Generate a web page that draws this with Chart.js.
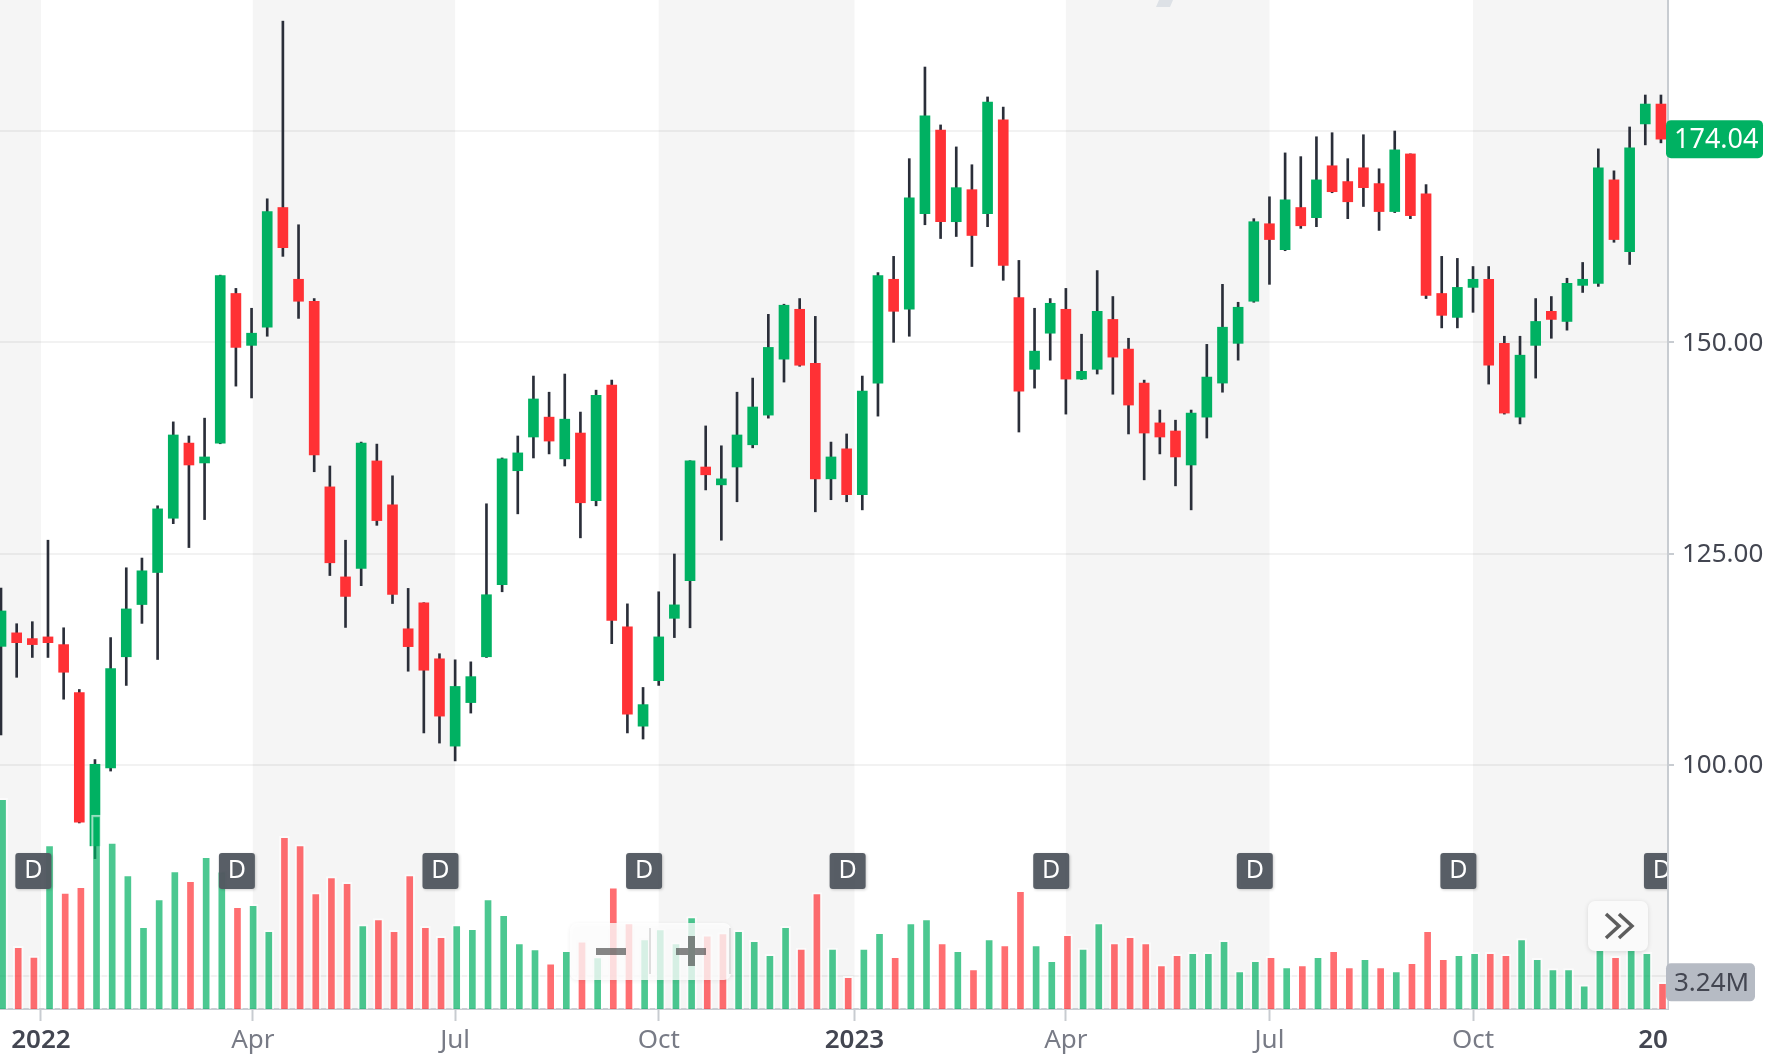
<!DOCTYPE html>
<html>
<head>
<meta charset="utf-8">
<title>Chart</title>
<script src="https://cdn.jsdelivr.net/npm/chart.js@4"></script>
<style>
  html, body { margin: 0; padding: 0; background: #fff; }
  canvas { display: block; }
</style>
</head>
<body>
<canvas id="chart" width="1774" height="1058"></canvas>
<script>
// weekly bars, values
const opens = [114.03,115.63,114.95,115.15,114.24,108.57,90.43,99.64,112.8,118.98,122.77,129.19,138.08,135.73,138.08,155.78,149.64,151.79,165.95,157.46,154.86,132.9,122.25,123.25,135.97,130.78,116.11,119.18,112.56,102.23,107.38,112.8,121.33,134.81,138.8,141.15,136.21,139.27,131.26,144.94,116.35,104.59,109.97,117.35,121.81,135.25,133.14,135.25,137.88,141.39,148.01,153.91,147.53,133.85,137.4,131.98,145.18,157.46,153.91,165.23,175.12,164.27,168.06,165.23,176.31,155.3,146.81,151.08,153.91,145.65,146.81,152.71,149.2,145.18,140.47,139.51,135.49,141.15,145.18,149.88,154.86,164.03,160.96,165.95,164.75,170.89,169.02,170.65,168.78,165.47,172.29,167.58,155.78,152.95,156.5,157.46,149.88,141.15,149.64,153.67,152.47,156.74,156.98,169.22,160.72,175.84,178.19];
const highs = [120.93,116.71,116.95,126.59,116.23,108.93,100.64,115.07,123.33,124.48,130.66,140.59,138.92,141.03,157.95,156.38,154.03,166.98,188,163.91,155.18,135.37,126.59,138.2,137.96,134.21,120.89,119.2,113.16,112.44,112.2,130.9,136.32,138.92,146.01,144.1,146.25,141.75,144.34,145.53,119.06,109.17,120.49,124.96,136,140.11,137.76,144.1,145.77,153.31,154.51,155.18,153.07,138.2,139.16,146.01,158.25,160.17,171.73,182.57,175.72,173.12,171.01,179.03,177.83,159.69,154.03,155.18,156.38,150.96,158.49,155.42,150.48,145.53,141.99,140.79,141.99,149.76,156.86,154.74,164.63,167.22,172.41,171.97,174.32,174.8,171.73,174.56,170.53,175,172.3,168.66,160.17,159.93,158.97,158.97,150.72,150.72,155.18,155.42,157.58,159.45,172.89,170.29,175.48,179.26,179.26];
const lows = [103.55,110.37,112.72,112.72,107.78,93.14,88.92,99.28,109.41,116.75,112.48,128.55,125.72,129.03,138,144.82,143.42,150.72,160.17,152.83,134.69,122.41,116.27,121.21,128.35,119.1,111.09,103.79,102.59,100.48,106.14,112.72,120.49,129.71,136.32,136.8,135.37,126.87,130.66,114.35,103.79,103.07,109.41,115.07,116.23,132.54,126.59,131.14,137.52,141.03,145.3,147.17,129.95,131.38,131.14,130.18,141.27,150,150.72,163.91,162.28,162.52,158.97,163.68,157.34,139.39,144.58,147.89,141.51,145.6,146.25,143.86,139.16,133.73,136.8,133.02,130.18,138.68,144.1,147.89,154.74,156.86,160.84,163.48,163.68,167.7,164.63,166.07,163.24,165.35,164.63,155.18,151.71,151.71,153.55,145.06,141.51,140.35,145.77,150.48,151.44,155.9,156.62,161.84,159.21,173.36,173.6];
const closes = [118.22,114.47,114.24,114.47,110.97,93.22,100.08,111.4,118.46,122.97,130.3,139.04,135.49,136.44,157.89,149.4,151.08,165.47,161.2,154.86,136.68,123.92,119.94,138.08,128.91,120.18,114,111.21,105.78,109.29,110.45,120.14,136.21,136.92,143.3,138.32,140.91,131.02,143.74,117.11,106.02,107.14,115.15,118.94,135.97,134.33,133.85,139.04,142.35,149.4,154.39,147.29,133.85,136.44,131.98,144.22,157.89,153.67,167.1,176.79,164.27,168.3,162.64,178.43,159.09,144.22,148.96,154.62,145.65,146.57,153.67,148.25,142.58,139.27,138.8,136.44,141.63,145.89,151.79,154.15,164.27,162.16,166.86,163.79,169.22,167.82,166.63,168.3,165.47,172.77,164.99,155.54,153.19,156.5,157.46,147.29,141.63,148.48,152.47,152.71,156.98,157.46,170.65,162.16,173,178.19,174.04];

// volume in millions, and whether the volume bar is drawn green
const volumes = [27.44,7.99,6.7,21.36,15.1,15.85,25.22,21.67,17.4,10.61,14.25,17.94,16.65,19.8,17.89,13.23,13.5,10.08,22.42,21.36,15.05,17.14,16.38,10.83,11.63,10.08,17.4,10.61,9.28,10.83,10.35,14.25,12.17,8.48,7.68,5.82,7.46,8.7,6.62,15.81,11.1,9.01,10.3,8.48,11.9,9.5,9.77,10.08,8.75,6.93,10.61,7.73,15.05,7.73,4.04,7.73,9.81,6.66,11.1,11.63,8.48,7.46,5.06,9.01,8.21,15.32,8.21,6.13,9.55,7.73,11.1,8.48,9.28,8.48,5.59,6.93,7.19,7.19,8.75,4.8,6.13,6.66,5.33,5.59,6.66,7.46,5.33,6.39,5.33,4.8,5.86,10.08,6.39,6.93,7.19,7.19,6.93,9.01,6.39,5.06,5.06,2.93,9.37,6.66,9.37,7.19,3.24];
const volumeUp = [1,0,0,1,0,0,1,1,1,1,1,1,0,1,1,0,1,1,0,0,0,0,0,1,0,0,0,0,0,1,1,1,1,1,1,0,1,0,1,0,0,1,1,1,1,0,0,1,1,1,1,0,0,1,0,1,1,0,1,1,0,1,0,1,0,0,1,1,0,1,1,0,0,0,0,0,1,1,1,1,1,0,1,0,1,0,0,1,0,1,0,0,0,1,1,0,0,1,1,1,1,1,1,0,1,1,0];

// time axis, in bar numbers
const timeTicks = [2.55,16.08,29,42,54.5,68,81,94,105.5];
const timeLabels = ['2022','Apr','Jul','Oct','2023','Apr','Jul','Oct','20'];
const yearLabels = ['2022','2023','20'];
const priceTicks = [75,100,125,150,175];
const hiddenPriceLabels = [75,175];
const dividendBars = [2,15,28,41,54,67,80,93,106];
const lastPrice = 174.04;
const lastVolume = 3.24;

const GREEN = '#00b162';
const RED = '#ff3135';
const WICK = '#2a2e39';
const AXIS = '#c8ccd1';
const FONT = '"Noto Sans", "Open Sans", sans-serif';

const xMin = -0.064, xMax = 106.45;
const volFloor = -0.26; // bars carry a 2px light edge on top, lift them by that much

function roundBox(ctx, x, y, w, h, r){
    ctx.beginPath();
    ctx.roundRect(x, y, w, h, r);
    ctx.fill();
}

// grey background for every other quarter
const quarterBands = {
    id: 'quarterBands',
    beforeDraw(chart){
        const {ctx, chartArea: a, scales: {x}} = chart;
        const edges = [xMin].concat(timeTicks.slice(0, 8), [xMax]);
        ctx.save();
        ctx.fillStyle = '#f5f5f5';
        for(let i = 0; i < edges.length - 1; i += 2){
            const l = x.getPixelForValue(edges[i]);
            const r = x.getPixelForValue(edges[i + 1]);
            ctx.fillRect(l, a.top, r - l, a.bottom - a.top);
        }
        // bottom of the watermark, cut off by the crop
        ctx.fillStyle = '#dde1e6';
        ctx.beginPath();
        ctx.moveTo(1159, 0); ctx.lineTo(1173, 0); ctx.lineTo(1170, 7); ctx.lineTo(1156, 7);
        ctx.closePath();
        ctx.fill();
        ctx.restore();
    }
};

const overlays = {
    id: 'overlays',
    afterDraw(chart){
        const {ctx, chartArea: a, scales: {x, y, yVol}} = chart;
        ctx.save();
        ctx.textBaseline = 'middle';

        // D markers
        ctx.save();
        ctx.beginPath();
        ctx.rect(a.left, a.top, a.right - a.left - 1, a.bottom - a.top);
        ctx.clip();
        ctx.font = '25px ' + FONT;
        ctx.textAlign = 'center';
        dividendBars.forEach(b => {
            const cx = x.getPixelForValue(b) + 1;
            ctx.shadowColor = 'rgba(0,0,0,0.2)';
            ctx.shadowBlur = 3;
            ctx.shadowOffsetX = 1;
            ctx.shadowOffsetY = 1;
            ctx.fillStyle = 'rgba(84,90,98,0.97)';
            roundBox(ctx, cx - 18, 853, 36, 36, 3);
            ctx.shadowColor = 'transparent';
            ctx.fillStyle = '#fff';
            ctx.fillText('D', cx, 871);
        });
        ctx.restore();

        // zoom buttons
        ctx.save();
        ctx.shadowColor = 'rgba(0,0,0,0.08)';
        ctx.shadowBlur = 4;
        ctx.shadowOffsetY = 1;
        ctx.fillStyle = 'rgba(255,255,255,0.78)';
        roundBox(ctx, 570, 923, 161, 57, 7);
        ctx.restore();
        ctx.fillStyle = 'rgba(70,70,70,0.65)';
        ctx.fillRect(596, 948, 30, 7);
        ctx.fillRect(676, 948, 30, 7);
        ctx.fillRect(688, 936, 7, 12);
        ctx.fillRect(688, 955, 7, 11);
        ctx.fillStyle = 'rgba(200,200,200,0.6)';
        ctx.fillRect(649, 928, 2, 46);
        ctx.fillRect(729, 928, 2, 46);

        // scroll to latest button
        ctx.save();
        ctx.shadowColor = 'rgba(0,0,0,0.12)';
        ctx.shadowBlur = 5;
        ctx.shadowOffsetY = 1;
        ctx.fillStyle = '#fafafa';
        roundBox(ctx, 1588, 901, 60, 50, 7);
        ctx.restore();
        ctx.strokeStyle = '#5d5d5d';
        ctx.lineWidth = 3.5;
        ctx.beginPath();
        ctx.moveTo(1606, 914); ctx.lineTo(1619, 926); ctx.lineTo(1606, 938);
        ctx.moveTo(1619, 914); ctx.lineTo(1632, 926); ctx.lineTo(1619, 938);
        ctx.stroke();

        // last value labels on the right
        ctx.font = '27px ' + FONT;
        ctx.textAlign = 'left';
        const py = y.getPixelForValue(lastPrice);
        ctx.fillStyle = GREEN;
        roundBox(ctx, 1666, py - 19, 97, 38, 5);
        ctx.fillStyle = '#fff';
        ctx.fillText(lastPrice.toFixed(2), 1674, py + 1);

        ctx.font = '26px ' + FONT;
        const vy = yVol.getPixelForValue(lastVolume);
        ctx.fillStyle = '#b6bbc4';
        roundBox(ctx, 1666, vy - 19, 89, 38, 5);
        ctx.fillStyle = '#434651';
        ctx.fillText(lastVolume.toFixed(2) + 'M', 1674, vy + 1);
        ctx.restore();
    }
};

const bars = opens.map((_, i) => i);

new Chart(document.getElementById('chart').getContext('2d'), {
    type: 'bar',
    data: {
        datasets: [
            {
                label: 'Volume',
                xAxisID: 'xVol',
                yAxisID: 'yVol',
                order: 1,
                grouped: false,
                barPercentage: 1,
                categoryPercentage: 1,
                maxBarThickness: 10,
                base: volFloor,
                borderWidth: {top: 2, left: 2, right: 2, bottom: 0},
                borderColor: 'rgba(255,255,255,0.6)',
                data: bars.map(i => ({x: i, y: volumes[i]})),
                backgroundColor: bars.map(i => volumeUp[i] ? 'rgba(0,177,98,0.7)' : 'rgba(255,49,53,0.7)')
            },
            {
                label: 'Body',
                order: 2,
                grouped: false,
                barPercentage: 1,
                categoryPercentage: 1,
                maxBarThickness: 10,
                data: bars.map(i => ({x: i, y: [opens[i], closes[i]]})),
                backgroundColor: bars.map(i => closes[i] >= opens[i] ? GREEN : RED)
            },
            {
                label: 'Wick',
                order: 3,
                grouped: false,
                barPercentage: 1,
                categoryPercentage: 1,
                maxBarThickness: 2,
                data: bars.map(i => ({x: i, y: [lows[i], highs[i]]})),
                backgroundColor: WICK
            }
        ]
    },
    options: {
        responsive: false,
        animation: false,
        devicePixelRatio: 1,
        layout: { padding: 0 },
        plugins: {
            legend: { display: false },
            tooltip: { enabled: false }
        },
        scales: {
            x: {
                type: 'linear',
                offset: false,
                z: 1,
                min: xMin,
                max: xMax,
                afterBuildTicks(scale){
                    scale.ticks = timeTicks.map(v => ({value: v}));
                },
                afterFit(scale){
                    scale.height = 49;
                    scale.paddingLeft = 0;
                    scale.paddingRight = 0;
                },
                border: { color: AXIS, width: 2 },
                grid: {
                    offset: false,
                    drawOnChartArea: false,
                    tickLength: 12,
                    tickWidth: 2,
                    tickColor: c => timeLabels[c.index] === '20' ? 'transparent' : AXIS
                },
                ticks: {
                    autoSkip: false,
                    maxRotation: 0,
                    padding: 4,
                    callback: (v, i) => timeLabels[i],
                    color: c => yearLabels.includes(timeLabels[c.index]) ? '#434651' : '#787b86',
                    font: c => ({
                        family: FONT,
                        size: 26,
                        weight: yearLabels.includes(timeLabels[c.index]) ? '600' : '400'
                    })
                }
            },
            xVol: {
                type: 'linear',
                display: false,
                offset: false,
                grid: { offset: false },
                min: xMin - 0.1,
                max: xMax - 0.1
            },
            y: {
                position: 'right',
                min: 71.13,
                max: 190.5,
                afterBuildTicks(scale){
                    scale.ticks = priceTicks.map(v => ({value: v}));
                },
                afterFit(scale){
                    scale.width = 106;
                    scale.paddingTop = 0;
                    scale.paddingBottom = 0;
                },
                border: { color: AXIS, width: 2 },
                grid: {
                    color: 'rgba(0,0,0,0.05)',
                    lineWidth: 2,
                    tickLength: 6,
                    tickColor: AXIS
                },
                ticks: {
                    autoSkip: false,
                    padding: 8,
                    labelOffset: 1,
                    color: '#434651',
                    font: { family: FONT, size: 26 },
                    callback: v => hiddenPriceLabels.includes(v) ? '' : v.toFixed(2)
                }
            },
            yVol: {
                display: false,
                min: volFloor,
                max: 132.34
            }
        }
    },
    plugins: [quarterBands, overlays]
});
</script>
</body>
</html>
